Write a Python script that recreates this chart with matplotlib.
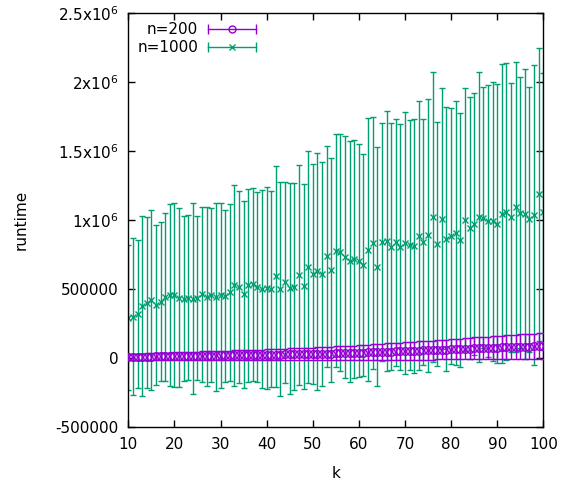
import matplotlib
matplotlib.use('Agg')
import matplotlib.pyplot as plt
from matplotlib.legend_handler import HandlerBase
from matplotlib.lines import Line2D

# x values (k)
k = list(range(10, 101))

# n=200 : mean and std (in thousands)
mean200 = [10, 10, 11, 11, 12, 12, 13, 13, 14, 14,
           15, 15, 16, 16, 17, 17, 18, 18, 19, 19,
           20, 20, 21, 21, 22, 22, 23, 23, 24, 24,
           25, 25, 26, 26, 27, 28, 28, 29, 29, 30,
           31, 31, 32, 33, 34, 35, 36, 37, 38, 39,
           40, 41, 42, 43, 44, 46, 47, 48, 49, 50,
           52, 53, 54, 55, 57, 58, 59, 61, 62, 63,
           64, 66, 67, 68, 70, 71, 72, 74, 75, 76,
           77, 78, 79, 80, 81, 82, 83, 84, 85, 86,
           88]
std200 = [22, 22, 23, 23, 24, 24, 25, 25, 26, 27,
          27, 28, 28, 29, 30, 30, 31, 31, 32, 33,
          33, 34, 34, 35, 36, 36, 37, 37, 38, 39,
          39, 40, 41, 41, 42, 43, 43, 44, 45, 46,
          46, 47, 48, 48, 49, 50, 51, 52, 52, 53,
          54, 55, 56, 57, 58, 59, 60, 61, 62, 63,
          63, 64, 65, 66, 67, 68, 69, 70, 71, 72,
          73, 74, 75, 76, 77, 79, 80, 81, 82, 84,
          85, 86, 87, 88, 89, 90, 91, 92, 93, 95,
          97]

# n=1000 : mean and upper end of the error bar (in thousands)
mean1000 = [294, 300, 318, 376, 400, 420, 383, 408, 444, 456,
            456, 439, 432, 439, 432, 437, 464, 444, 456, 444,
            454, 449, 476, 527, 517, 462, 527, 535, 518, 500,
            508, 498, 592, 503, 549, 505, 518, 602, 520, 660,
            609, 628, 609, 739, 638, 778, 766, 734, 700, 718,
            706, 675, 785, 836, 663, 841, 845, 807, 838, 804,
            836, 819, 812, 886, 841, 889, 1022, 824, 1010, 862,
            884, 903, 855, 1003, 940, 971, 1022, 1018, 994, 990,
            973, 1047, 1060, 1021, 1096, 1053, 1046, 1005, 1036, 1186,
            1060]
top1000 = [820, 869, 854, 1027, 1019, 1073, 961, 983, 1053, 1116,
           1121, 1085, 1029, 1036, 1124, 1029, 1097, 1092, 1085, 1126,
           1121, 1073, 1116, 1252, 1210, 1137, 1224, 1234, 1205, 1215,
           1241, 1207, 1393, 1277, 1275, 1270, 1265, 1400, 1263, 1497,
           1403, 1487, 1422, 1538, 1451, 1620, 1625, 1610, 1572, 1576,
           1547, 1480, 1735, 1747, 1525, 1704, 1786, 1699, 1733, 1694,
           1783, 1723, 1728, 1858, 1730, 1875, 2068, 1706, 1953, 1815,
           1808, 1858, 1771, 1953, 1888, 1922, 2071, 1960, 1980, 1999,
           1982, 2127, 2134, 1994, 2146, 2035, 2095, 1965, 2122, 2247,
           2061]

yticks = [-500000, 0, 500000, 1000000, 1500000, 2000000, 2500000]
ytick_labels = ['-500000', '0', '500000', r'1x10$^6$', r'1.5x10$^6$',
                r'2x10$^6$', r'2.5x10$^6$']
xticks = [10, 20, 30, 40, 50, 60, 70, 80, 90, 100]

purple = '#9400d3'
green = '#009e73'


class KeyHandler(HandlerBase):
    # gnuplot style key sample: horizontal bar with end caps and a marker
    def create_artists(self, legend, orig_handle, xdescent, ydescent,
                       width, height, fontsize, trans):
        c = orig_handle.get_color()
        y = height / 2 - ydescent
        x0, x1 = -xdescent, width - xdescent
        line = Line2D([x0, x1], [y, y], color=c, lw=1)
        caps = Line2D([x0, x1], [y, y], ls='none', marker='|',
                      ms=7, mew=1, color=c)
        mk = Line2D([(x0 + x1) / 2], [y], ls='none',
                    marker=orig_handle.get_marker(), ms=5, mew=1,
                    mfc='none', mec=c)
        for a in (line, caps, mk):
            a.set_transform(trans)
        return [line, caps, mk]


plt.rcParams['font.family'] = 'DejaVu Sans'
plt.rcParams['mathtext.default'] = 'regular'
plt.rcParams['font.size'] = 11

fig = plt.figure(figsize=(5.67, 4.84), dpi=100)
ax = fig.add_axes([0.2263, 0.1171, 0.7319, 0.8567])

m1000 = [v * 1000 for v in mean1000]
e1000 = [(t - m) * 1000 for t, m in zip(top1000, mean1000)]
m200 = [v * 1000 for v in mean200]
e200 = [v * 1000 for v in std200]

ax.errorbar(k, m1000, yerr=e1000, fmt='x', color=green, ecolor=green,
            elinewidth=1, capsize=2.5, capthick=1, ms=5, mew=1, zorder=2)
ax.errorbar(k, m200, yerr=e200, fmt='o', color=purple, ecolor=purple,
            mfc='none', elinewidth=1, capsize=2.5, capthick=1, ms=5.5,
            mew=1, zorder=3)

ax.set_xlim(10, 100)
ax.set_ylim(-500000, 2500000)
ax.set_xticks(xticks)
ax.set_yticks(yticks)
ax.set_yticklabels(ytick_labels)
ax.tick_params(direction='in', length=5, width=1, top=True, right=True,
               pad=7, labelsize=11)
for s in ax.spines.values():
    s.set_linewidth(1)

ax.set_xlabel('k', labelpad=10)
ax.set_ylabel('runtime', labelpad=19)

handles = [Line2D([], [], color=purple, marker='o'),
           Line2D([], [], color=green, marker='x')]
ax.legend(handles, ['n=200', 'n=1000'], loc='upper left', frameon=False,
          markerfirst=False, handlelength=3.1, handletextpad=0.65,
          labelspacing=0.2, borderaxespad=0.2,
          handler_map={Line2D: KeyHandler()})

fig.savefig('out.png', dpi=100)
